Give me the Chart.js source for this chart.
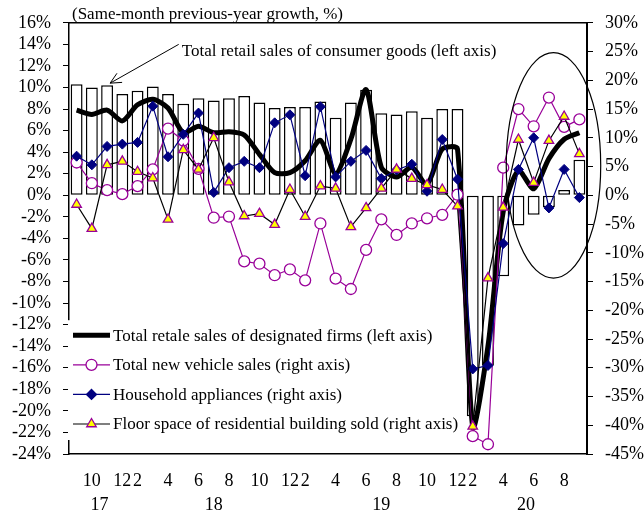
<!DOCTYPE html>
<html>
<head>
<meta charset="utf-8">
<script src="https://cdn.jsdelivr.net/npm/chart.js@4/dist/chart.umd.min.js"></script>
<style>
  html, body { margin: 0; padding: 0; background: #fff; }
  #wrap { width: 644px; height: 518px; }
</style>
</head>
<body>
<div id="wrap"><canvas id="c" width="644" height="518"></canvas></div>
<script>
// Periods (year-month); January is folded into the Jan-Feb figure reported as month 2
const categories = [
  '17-9','17-10','17-11','17-12',
  '18-2','18-3','18-4','18-5','18-6','18-7','18-8','18-9','18-10','18-11','18-12',
  '19-2','19-3','19-4','19-5','19-6','19-7','19-8','19-9','19-10','19-11','19-12',
  '20-2','20-3','20-4','20-5','20-6','20-7','20-8','20-9'
];

// Total retail sales of consumer goods, y/y % (left axis, bars)
const retailTotal = [
  10.3, 10.0, 10.2, 9.4,
  9.7, 10.1, 9.4, 8.5, 9.0, 8.8, 9.0, 9.2, 8.6, 8.1, 8.2,
  8.2, 8.7, 7.2, 8.6, 9.8, 7.6, 7.5, 7.8, 7.2, 8.0, 8.0,
  -20.5, -15.8, -7.5, -2.8, -1.8, -1.1, 0.5, 3.3
];

// Retail sales of designated firms, y/y % (left axis, thick line)
const retailDesignated = [
  7.9, 7.5, 7.9, 6.9,
  8.4, 8.9, 8.1, 5.8, 6.4, 5.8, 5.9, 5.6, 3.8, 2.1, 2.1,
  3.2, 5.1, 2.0, 5.2, 9.8, 2.6, 1.7, 2.6, 1.0, 4.3, 4.3,
  -21.5, -14.0, -1.5, 2.3, 0.6, 3.4, 5.2, 5.8
];

// Total new vehicle sales, y/y % (right axis)
const vehicleSales = [
  5.7, 2.1, 0.9, 0.2,
  1.6, 4.5, 11.6, 9.5, 4.6, -3.9, -3.7, -11.5, -11.9, -13.9, -12.9,
  -14.8, -4.9, -14.5, -16.3, -9.5, -4.2, -6.9, -4.9, -4.0, -3.4, 0.1,
  -41.9, -43.3, 4.8, 15.0, 12.0, 17.0, 11.9, 13.2
];

// Household appliances, y/y % (right axis)
const appliances = [
  6.8, 5.3, 8.5, 8.9,
  9.2, 15.5, 6.7, 10.6, 14.3, 0.5, 4.8, 5.9, 4.8, 12.6, 14.0,
  3.4, 15.4, 3.2, 5.9, 7.8, 2.9, 4.4, 5.4, 0.7, 9.7, 2.8,
  -30.2, -29.6, -8.4, 4.5, 10.0, -2.2, 4.5, -0.4
];

// Floor space of residential building sold, y/y % (right axis)
const floorSpace = [
  -1.6, -5.8, 5.3, 5.9,
  4.1, 3.0, -4.2, 7.9, 4.5, 10.0, 2.3, -3.6, -3.2, -5.1, 1.0,
  -3.7, 1.6, 1.2, -5.5, -2.2, 1.2, 4.5, 2.9, 1.8, 1.0, -1.9,
  -40.2, -14.4, -2.1, 9.7, 2.2, 9.5, 13.7, 7.2
];

const monthOf = categories.map(c => +c.split('-')[1]);
const yearOf = categories.map(c => c.split('-')[0]);

const FONT = 'Liberation Serif, "Times New Roman", serif';
const PURPLE = '#990099';
const NAVY = '#000080';

function drawMarker(ctx, style, x, y) {
  ctx.save();
  ctx.lineWidth = 1.3;
  if (style === 'circle') {
    ctx.beginPath(); ctx.arc(x, y, 5.5, 0, Math.PI * 2);
    ctx.fillStyle = '#fff'; ctx.fill(); ctx.strokeStyle = PURPLE; ctx.stroke();
  } else if (style === 'diamond') {
    ctx.beginPath(); ctx.moveTo(x, y - 5); ctx.lineTo(x + 5, y); ctx.lineTo(x, y + 5); ctx.lineTo(x - 5, y); ctx.closePath();
    ctx.fillStyle = NAVY; ctx.fill(); ctx.strokeStyle = NAVY; ctx.stroke();
  } else if (style === 'triangle') {
    const r = 5.5;
    ctx.beginPath(); ctx.moveTo(x, y - r); ctx.lineTo(x + r * 0.87, y + r * 0.5); ctx.lineTo(x - r * 0.87, y + r * 0.5); ctx.closePath();
    ctx.fillStyle = '#ffff00'; ctx.fill(); ctx.strokeStyle = PURPLE; ctx.stroke();
  }
  ctx.restore();
}

const overlay = {
  id: 'overlay',
  afterDatasetsDraw(chart) {
    const { ctx, chartArea: a, scales: { x, yL, yR } } = chart;
    ctx.save();

    // ellipse around the recovery months of 2020
    const cx = x.getPixelForValue(31.3);
    const rx = x.getPixelForValue(34.4) - cx;
    const eTop = yR.getPixelForValue(24.8), eBot = yR.getPixelForValue(-14.4);
    ctx.beginPath();
    ctx.ellipse(cx, (eTop + eBot) / 2, rx, (eBot - eTop) / 2, 0, 0, Math.PI * 2);
    ctx.lineWidth = 1.2; ctx.strokeStyle = '#000'; ctx.stroke();

    // call-out for the bar series
    const sx = x.getPixelForValue(6.7), sy = yL.getPixelForValue(14.0);
    const tx = x.getPixelForValue(2.2), ty = yL.getPixelForValue(10.4);
    ctx.beginPath(); ctx.moveTo(sx, sy); ctx.lineTo(tx, ty);
    const ang = Math.atan2(sy - ty, sx - tx);
    [0.45, -0.45].forEach(d => {
      ctx.moveTo(tx, ty);
      ctx.lineTo(tx + 12 * Math.cos(ang + d), ty + 12 * Math.sin(ang + d));
    });
    ctx.lineWidth = 1; ctx.stroke();
    ctx.fillStyle = '#000';
    ctx.font = '17px ' + FONT;
    ctx.textBaseline = 'alphabetic';
    ctx.textAlign = 'left';
    ctx.fillText('Total retail sales of consumer goods (left axis)', x.getPixelForValue(6.9), yL.getPixelForValue(12.9));

    // legend panel inside the plot
    const rowGap = 29.6;
    const lastRow = a.bottom - 30;
    const firstRow = lastRow - 3 * rowGap;
    ctx.fillStyle = '#fff';
    ctx.fillRect(a.left - 1, firstRow - 15, 384, lastRow - firstRow + 31);
    const items = chart.data.datasets.filter(d => d.type === 'line');
    items.forEach((d, i) => {
      const y = firstRow + i * rowGap;
      const x0 = a.left + 4, x1 = a.left + 41;
      ctx.beginPath(); ctx.moveTo(x0, y); ctx.lineTo(x1, y);
      ctx.strokeStyle = d.borderColor;
      ctx.lineWidth = d.borderWidth;
      ctx.stroke();
      if (d.marker) drawMarker(ctx, d.marker, (x0 + x1) / 2, y);
      ctx.fillStyle = '#000';
      ctx.font = '17px ' + FONT;
      ctx.textBaseline = 'middle';
      ctx.fillText(d.label, x1 + 3, y + 1);
    });
    ctx.restore();
  },
  afterDraw(chart) {
    const { ctx, chartArea: a, scales: { x } } = chart;
    ctx.save();
    // top frame
    ctx.beginPath(); ctx.moveTo(a.left, a.top); ctx.lineTo(a.right, a.top);
    ctx.strokeStyle = '#000'; ctx.lineWidth = 1.5; ctx.stroke();
    // unit note
    ctx.fillStyle = '#000';
    ctx.font = '17px ' + FONT;
    ctx.textAlign = 'left';
    ctx.textBaseline = 'alphabetic';
    ctx.fillText('(Same-month previous-year growth, %)', a.left + 3, a.top - 4);
    // year row under the month ticks
    ctx.font = '18px ' + FONT;
    ctx.textAlign = 'center';
    ctx.textBaseline = 'middle';
    const groups = {};
    yearOf.forEach((y, i) => { (groups[y] = groups[y] || []).push(i); });
    Object.keys(groups).forEach(y => {
      const idx = groups[y];
      const px = (x.getPixelForValue(idx[0]) + x.getPixelForValue(idx[idx.length - 1])) / 2;
      ctx.fillText(y, px, a.bottom + 51);
    });
    ctx.restore();
  }
};

new Chart(document.getElementById('c'), {
  data: {
    labels: categories,
    datasets: [
      {
        type: 'bar', label: 'Total retail sales of consumer goods (left axis)',
        data: retailTotal, yAxisID: 'yL', order: 5,
        backgroundColor: '#fff', borderColor: '#000', borderWidth: 1.5, borderSkipped: false,
        barPercentage: 0.78, categoryPercentage: 1.0
      },
      {
        type: 'line', label: 'Total retale sales of designated firms (left axis)',
        data: retailDesignated, yAxisID: 'yL', order: 4,
        borderColor: '#000', borderWidth: 5, pointRadius: 0, tension: 0.25, fill: false
      },
      {
        type: 'line', label: 'Total new vehicle sales (right axis)', marker: 'circle',
        data: vehicleSales, yAxisID: 'yR', order: 3,
        borderColor: PURPLE, borderWidth: 1.2, tension: 0,
        pointStyle: 'circle', pointRadius: 5.5, pointBackgroundColor: '#fff',
        pointBorderColor: PURPLE, pointBorderWidth: 1.3
      },
      {
        type: 'line', label: 'Household appliances (right axis)', marker: 'diamond',
        data: appliances, yAxisID: 'yR', order: 2,
        borderColor: NAVY, borderWidth: 1.2, tension: 0,
        pointStyle: 'rectRot', pointRadius: 5, pointBackgroundColor: NAVY,
        pointBorderColor: NAVY, pointBorderWidth: 1
      },
      {
        type: 'line', label: 'Floor space of residential building sold (right axis)', marker: 'triangle',
        data: floorSpace, yAxisID: 'yR', order: 1,
        borderColor: '#000', borderWidth: 1.2, tension: 0,
        pointStyle: 'triangle', pointRadius: 5.5, pointBackgroundColor: '#ffff00',
        pointBorderColor: PURPLE, pointBorderWidth: 1.3
      }
    ]
  },
  options: {
    responsive: false,
    animation: false,
    devicePixelRatio: 1,
    layout: { padding: { top: 20, left: 0, right: 0, bottom: 0 } },
    plugins: { legend: { display: false }, tooltip: { enabled: false } },
    scales: {
      x: {
        type: 'category', offset: true,
        grid: { display: false },
        border: { display: true, color: '#000', width: 1.5 },
        ticks: {
          autoSkip: false, maxRotation: 0, minRotation: 0, padding: 8, color: '#000',
          font: { family: FONT, size: 18 },
          callback: (v, i) => (monthOf[i] % 2 === 0 ? String(monthOf[i]) : '')
        },
        afterFit: s => { s.height = 64; }
      },
      yL: {
        type: 'linear', position: 'left', min: -24, max: 16,
        grid: { drawOnChartArea: false, drawTicks: true, tickLength: 6, color: '#000', lineWidth: 1 },
        border: { display: true, color: '#000', width: 1.5 },
        ticks: { stepSize: 2, autoSkip: false, padding: 12, color: '#000', font: { family: FONT, size: 18 }, callback: v => v + '%' },
        afterFit: s => { s.width = 69; }
      },
      yR: {
        type: 'linear', position: 'right', min: -45, max: 30,
        grid: { drawOnChartArea: false, drawTicks: true, tickLength: 6, color: '#000', lineWidth: 1 },
        border: { display: true, color: '#000', width: 2 },
        ticks: { stepSize: 5, autoSkip: false, padding: 12, color: '#000', font: { family: FONT, size: 18 }, callback: v => v + '%' },
        afterFit: s => { s.width = 57; }
      }
    }
  },
  plugins: [overlay]
});
</script>
</body>
</html>
